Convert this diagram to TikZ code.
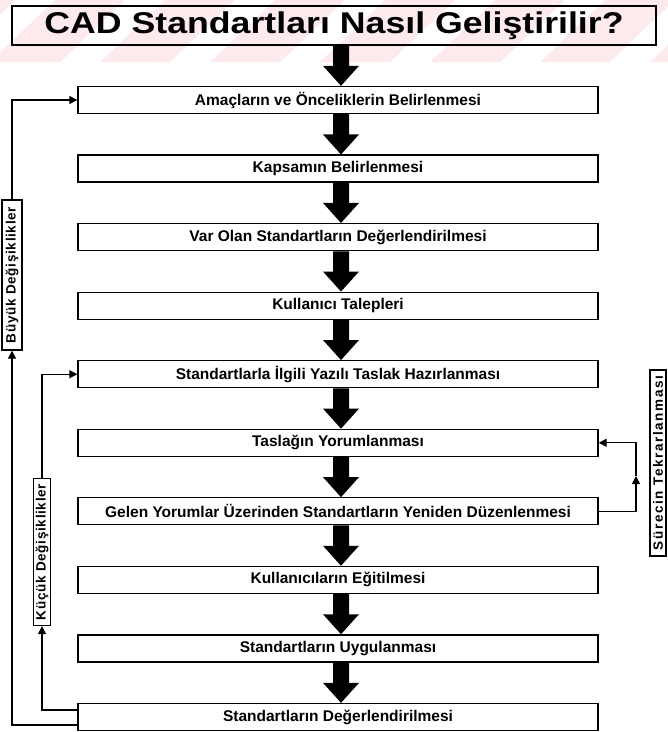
\documentclass[tikz,border=0pt]{standalone}
\usepackage{fontspec}
\setmainfont{Liberation Sans}
\usetikzlibrary{arrows.meta,calc}
\definecolor{wmpink}{RGB}{252,234,237}
\newcommand{\blkarrow}[2]{%
  \path (#1.south -| ax) coordinate (bs) (#2.north -| ax) coordinate (be);
  \fill ($(bs)+(-8,0)$) -- ($(be)+(-8,-20)$) -- ($(be)+(-18,-20)$) -- (be)
        -- ($(be)+(18,-20)$) -- ($(be)+(8,-20)$) -- ($(bs)+(8,0)$) -- cycle;}
\begin{document}
\begin{tikzpicture}[x=1pt,y=-1pt,
  stepbox/.style={draw, line width=1.3pt, minimum width=520pt, minimum height=27pt, inner sep=0pt,
    font=\fontsize{15.5}{17}\selectfont\bfseries},
  sidelbl/.style={draw, line width=1.2pt, rotate=90, inner sep=0pt,
    font=\fontsize{13.5}{15}\selectfont\bfseries},
  conn/.style={line width=1.2pt},
  tip/.style={-{Triangle[length=8pt,width=8pt]}}
]
\useasboundingbox (0,0) rectangle (668,732);
\begin{scope}
  \clip (0,0) rectangle (668,62);
  \foreach \i in {-120,-10,...,700}
    \fill[wmpink] (\i,62) -- (\i+70,62) -- (\i+135,0) -- (\i+65,0) -- cycle;
\end{scope}
\node[draw, line width=1.3pt, minimum width=644pt, minimum height=39pt, inner sep=0pt,
  font=\fontsize{30}{34}\selectfont\bfseries] (title) at (334,25.5)
  {\scalebox{1.19}[1]{CAD Standartları Nasıl Geliştirilir?}};
\coordinate (ax) at (341,0);
\node[stepbox] (b1)  at (338,100)   {Amaçların ve Önceliklerin Belirlenmesi};
\node[stepbox] (b2)  at (338,168.6) {Kapsamın Belirlenmesi};
\node[stepbox] (b3)  at (338,237.1) {Var Olan Standartların Değerlendirilmesi};
\node[stepbox] (b4)  at (338,305.7) {Kullanıcı Talepleri};
\node[stepbox] (b5)  at (338,374.2) {Standartlarla İlgili Yazılı Taslak Hazırlanması};
\node[stepbox] (b6)  at (338,442.8) {Taslağın Yorumlanması};
\node[stepbox] (b7)  at (338,511.3) {Gelen Yorumlar Üzerinden Standartların Yeniden Düzenlenmesi};
\node[stepbox] (b8)  at (338,579.9) {Kullanıcıların Eğitilmesi};
\node[stepbox] (b9)  at (338,648.4) {Standartların Uygulanması};
\node[stepbox] (b10) at (338,717)   {Standartların Değerlendirilmesi};
\blkarrow{title}{b1}
\blkarrow{b1}{b2}
\blkarrow{b2}{b3}
\blkarrow{b3}{b4}
\blkarrow{b4}{b5}
\blkarrow{b5}{b6}
\blkarrow{b6}{b7}
\blkarrow{b7}{b8}
\blkarrow{b8}{b9}
\blkarrow{b9}{b10}
\node[sidelbl, minimum width=150pt, minimum height=20pt] (lbig) at (12,275)
  {\addfontfeatures{LetterSpace=5}Büyük Değişiklikler};
\node[sidelbl, minimum width=147pt, minimum height=17pt] (lsmall) at (42,552)
  {\addfontfeatures{LetterSpace=5}Küçük Değişiklikler};
\node[sidelbl, minimum width=186pt, minimum height=16pt] (lrep) at (658,463)
  {\addfontfeatures{LetterSpace=12}Sürecin Tekrarlanması};
\coordinate (yb) at (0,725);
\coordinate (ys) at (0,710);
\coordinate (rup) at (636,476);
\draw[conn,tip] (b10.west |- yb) -| (lbig.west);
\draw[conn,tip] (lbig.east) |- (b1.west);
\draw[conn,tip] (b10.west |- ys) -| (lsmall.west);
\draw[conn,tip] (lsmall.east) |- (b5.west);
\draw[conn,tip] (b7.east) -| (rup);
\draw[conn,tip] (rup) |- (b6.east);
\end{tikzpicture}
\end{document}
